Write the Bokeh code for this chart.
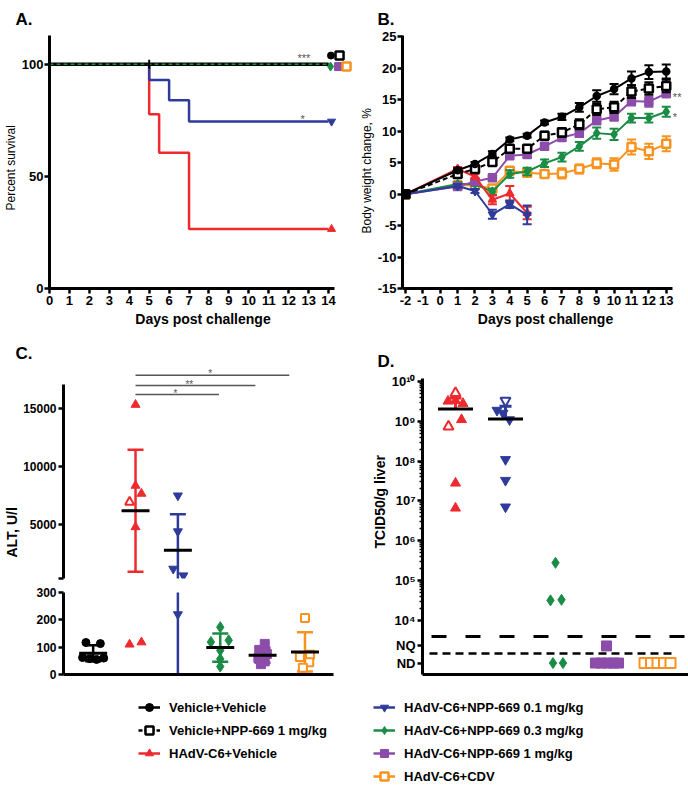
import math
from bokeh.plotting import figure
from bokeh.layouts import column, row
from bokeh.models import Range1d, FixedTicker, Legend, LegendItem, Title
from bokeh.core.properties import value
from bokeh.embed import file_html
from bokeh.resources import INLINE

FONT = "Liberation Sans"
INK = "#000000"
RED = "#EE2A2E"
BLUE = "#2E3B9B"
GREEN = "#1B8C45"
PURPLE = "#8C4DAA"
ORANGE = "#F7931E"
GRAY = "#555555"

GROUPS = ["Vehicle+Vehicle", "Vehicle+NPP-669 1 mg/kg", "HAdV-C6+Vehicle",
          "HAdV-C6+NPP-669 0.1 mg/kg", "HAdV-C6+NPP-669 0.3 mg/kg",
          "HAdV-C6+NPP-669 1 mg/kg", "HAdV-C6+CDV"]

# ---------------- Panel A: survival (%) ----------------
surv_days_flat = [0, 14]
surv_flat = [100, 100]
surv_days_red = [0, 5, 5.5, 7, 14]
surv_red = [100, 77.7, 60.6, 26.5, 26.5]
surv_days_blue = [0, 5, 6, 7, 14]
surv_blue = [100, 93.0, 84.0, 74.5, 74.5]
censor_days_vv = [5]
censor_vv = [100]
surv_x_ticks = list(range(0, 15))
surv_y_ticks = [0, 50, 100]
sig_A_text = ["***", "*"]
sig_A_day = [12.76, 12.7]
sig_A_y = [102.9, 75.6]

# ---------------- Panel B: body weight change (%) ----------------
bw_days = [-2, 1, 2, 3, 4, 5, 6, 7, 8, 9, 10, 11, 12, 13]
bw_vv = [0, 3.8, 4.8, 6.4, 8.7, 9.3, 11.4, 12.3, 13.8, 15.6, 16.7, 18.4, 19.4, 19.5]
bw_vv_sem = [0, 0.3, 0.3, 0.4, 0.3, 0.3, 0.3, 0.5, 0.7, 0.9, 0.8, 1.1, 1.1, 1.1]
bw_vn = [0, 3.2, 4.0, 5.1, 7.2, 7.2, 9.3, 9.8, 11.1, 13.5, 13.8, 16.3, 16.8, 17.2]
bw_vn_sem = [0, 0.4, 0.4, 0.5, 0.5, 0.5, 0.6, 0.7, 0.8, 0.9, 0.9, 1.0, 1.0, 1.0]
bw_p1 = [0, 1.2, 2.0, 2.6, 6.1, 6.3, 7.6, 9.0, 9.7, 11.7, 12.3, 14.8, 14.7, 16.0]
bw_p1_sem = [0, 0.3, 0.3, 0.3, 0.4, 0.4, 0.5, 0.5, 0.6, 0.6, 0.6, 0.7, 0.8, 0.6]
bw_p03 = [0, 1.6, 1.6, 0.4, 3.2, 3.6, 4.9, 5.9, 7.6, 9.7, 9.5, 12.1, 12.1, 13.1]
bw_p03_sem = [0, 0.3, 0.3, 0.5, 0.6, 0.6, 0.6, 0.7, 0.7, 0.9, 0.9, 0.7, 0.7, 0.8]
bw_cdv = [0, 1.4, 1.4, 0.9, 3.7, 3.4, 3.2, 3.3, 4.0, 4.9, 4.7, 7.5, 6.8, 8.0]
bw_cdv_sem = [0, 0.3, 0.3, 0.5, 0.5, 0.6, 0.6, 0.8, 0.7, 0.8, 1.0, 1.2, 1.2, 1.2]
bw_days_short = [-2, 1, 2, 3, 4, 5]
bw_hv = [0, 4.0, 2.8, -0.9, 0.1, -3.0]
bw_hv_sem = [0, 0.3, 0.4, 0.7, 1.2, 1.0]
bw_p01 = [0, 1.3, 0.5, -3.2, -1.6, -3.3]
bw_p01_sem = [0, 0.3, 0.3, 0.7, 0.6, 1.5]
bw_x_ticks = list(range(-2, 14))
bw_y_ticks = [-15, -10, -5, 0, 5, 10, 15, 20, 25]
sig_B_text = ["**", "*"]
sig_B_day = [13.38, 13.38]
sig_B_y = [15.5, 12.2]

# ---------------- Panel C: ALT (U/l) ----------------
alt_vv = [117, 113, 62, 58, 55, 60]
alt_hv = [15350, 8350, 7660, 6930, 4770, 110, 118]
alt_hv_open = [False, False, False, True, False, False, False]
alt_p01 = [7490, 4390, 1160, 580, 220]
alt_p03 = [173, 125, 119, 88, 57, 29]
alt_p1 = [112, 90, 75, 60, 48, 38]
alt_cdv = [207, 72, 64, 45, 25]
alt_upper_ticks = [5000, 10000, 15000]
alt_lower_ticks = [0, 100, 200, 300]
ALT_BREAK_LOW = 320      # bottom of the upper axis segment
ALT_BREAK_HIGH = 300     # top of the lower axis segment
sig_C_text = ["*", "**", "*"]
sig_C_from = [1, 1, 1]
sig_C_to = [4.63, 3.83, 2.97]
sig_C_level = [17900, 17010, 16230]
sig_C_star_x = [2.76, 2.27, 1.94]
# jitter of the dots within each column (layout only)
jit_vv = [-0.17, 0.17, -0.25, -0.08, 0.08, 0.25]
jit_hv = [0, 0, 0.14, -0.14, 0, -0.14, 0.14]
jit_p01 = [0, 0, -0.11, 0.13, 0]
jit_p03 = [0, 0.2, -0.22, 0, 0, 0]
jit_p1 = [0.05, -0.08, 0.1, -0.1, 0.05, -0.04]
jit_cdv = [0, 0.12, -0.12, 0.1, -0.05]

# ---------------- Panel D: TCID50/g liver ----------------
tcid_hv = [5.1e9, 3.2e9, 3.3e9, 2.8e9, 1.1e9, 7.4e8, 2.8e7, 6.6e6]
tcid_hv_open = [True, False, False, False, False, True, False, False]
tcid_p01 = [3.3e9, 1.9e9, 1.6e9, 1.1e9, 1.1e8, 3.3e7, 7.1e6]
tcid_p01_open = [True, False, False, False, False, False, False]
tcid_p03 = [2.8e5, 3.2e4, 3.3e4, "ND", "ND"]
tcid_p1 = ["NQ", "ND", "ND", "ND", "ND", "ND"]
tcid_cdv = ["ND", "ND", "ND", "ND", "ND"]
tcid_ticks = [10 ** k for k in range(4, 11)]
tcid_labels = ["10⁴", "10⁵", "10⁶", "10⁷", "10⁸", "10⁹", "10¹⁰"]
NQ_LEVEL = 10 ** 3.36
ND_LEVEL = 10 ** 2.93
LOQ_LINE = 10 ** 3.6
LOD_LINE = 10 ** 3.17
jit_t_hv = [0, -0.15, 0.0, 0.15, 0.12, -0.14, 0, 0]
jit_t_p01 = [0, -0.17, -0.05, 0.08, 0, 0, 0]
jit_t_p03 = [0, -0.1, 0.12, -0.05, 0.15]
jit_t_p1 = [0.02, -0.2, -0.08, 0.04, 0.16, 0.26]
jit_t_cdv = [-0.22, -0.09, 0.04, 0.17, 0.3]


def make_fig(width, height, xr, yr, borders, **kw):
    l, r, t, b = borders
    p = figure(width=width, height=height, x_range=xr, y_range=yr,
               output_backend="svg", toolbar_location=None,
               min_border_left=l, min_border_right=r, min_border_top=t,
               min_border_bottom=b, **kw)
    p.outline_line_color = None
    p.grid.visible = False
    return p


def style_axis(ax, size="13px"):
    ax.axis_line_width = 3
    ax.axis_line_color = INK
    ax.major_tick_line_width = 2.5
    ax.major_tick_line_color = INK
    ax.major_tick_out = 5
    ax.major_tick_in = 0
    ax.minor_tick_line_color = None
    ax.major_label_text_font = FONT
    ax.major_label_text_font_style = "bold"
    ax.major_label_text_font_size = size
    ax.major_label_text_color = INK
    ax.major_label_standoff = 2
    ax.axis_label_text_font = FONT
    ax.axis_label_text_font_style = "bold"
    ax.axis_label_text_font_size = "14px"
    ax.axis_label_text_color = INK


def panel_letter(p, text, offset, standoff):
    p.title.text = text
    p.title.align = "left"
    p.title.offset = offset
    p.title.standoff = standoff
    p.title.text_font = FONT
    p.title.text_font_size = "17px"
    p.title.text_font_style = "bold"
    p.title.text_color = INK


def side_title(p, text, offset, size="14px", style="bold"):
    t = Title(text=text, align="left", offset=offset, standoff=2, text_font=FONT,
              text_font_size=size, text_font_style=style, text_color=INK)
    p.add_layout(t, "left")


def stars(p, xs, ys, texts, size="11px", align="center"):
    p.text(x=xs, y=ys, text=texts, text_font=value(FONT), text_font_size=size,
           text_color=GRAY, text_align=align, text_baseline="alphabetic")


# ======================= A =======================
pA = make_fig(356, 335, Range1d(0, 15.4), Range1d(0, 112.85), (47, 0, 35, 47))
pA.step(surv_days_flat, surv_flat, mode="after", line_color=ORANGE, line_width=2)
pA.step(surv_days_flat, surv_flat, mode="after", line_color=PURPLE, line_width=2)
pA.step(surv_days_red, surv_red, mode="after", line_color=RED, line_width=2.5)
pA.step(surv_days_blue, surv_blue, mode="after", line_color=BLUE, line_width=2.5)
pA.step(surv_days_flat, surv_flat, mode="after", line_color=INK, line_width=3.5)
pA.step(surv_days_flat, surv_flat, mode="after", line_color=GREEN, line_width=1.5,
        line_dash="4 3")
pA.scatter(censor_days_vv, censor_vv, marker="dash", angle=math.pi / 2, size=9,
           line_color=INK, line_width=2)
last = lambda s: s[-1]
pA.scatter([14.12], [last(surv_flat) + 3.9], marker="circle", size=7, fill_color=INK, line_color=INK)
pA.scatter([14.55], [last(surv_flat) + 3.9], marker="square", size=8, fill_color="white", line_color=INK, line_width=2.5)
pA.scatter([14.1], [last(surv_flat) - 1], marker="diamond", size=9, fill_color=GREEN, line_color=GREEN)
pA.scatter([14.5], [last(surv_flat) - 1], marker="square", size=8, fill_color=PURPLE, line_color=PURPLE)
pA.scatter([14.9], [last(surv_flat) - 1], marker="square", size=8, fill_color="white", line_color=ORANGE, line_width=2.5)
pA.scatter([14.15], [last(surv_blue)], marker="inverted_triangle", size=8, fill_color=BLUE, line_color=BLUE)
pA.scatter([14.15], [last(surv_red)], marker="triangle", size=8, fill_color=RED, line_color=RED)
stars(pA, sig_A_day, sig_A_y, sig_A_text)
pA.xaxis.ticker = FixedTicker(ticks=surv_x_ticks)
pA.yaxis.ticker = FixedTicker(ticks=surv_y_ticks)
pA.xaxis.bounds = (0, 14.3)
style_axis(pA.xaxis, "13px")
style_axis(pA.yaxis, "13px")
pA.yaxis.major_label_standoff = 1
pA.xaxis.axis_label = "Days post challenge"
pA.xaxis.axis_label_standoff = 3
side_title(pA, "Percent survival", 78, size="12px", style="normal")
panel_letter(pA, "A.", -34, 14)

# ======================= B =======================
pB = make_fig(332, 335, Range1d(-2.17, 14.28), Range1d(-15, 25.22), (45, 0, 35, 47))


def bw_series(xs, ys, sem, color, marker, fill, dash="solid", size=7, mlw=1.5):
    lo = [y - e for y, e in zip(ys, sem)]
    hi = [y + e for y, e in zip(ys, sem)]
    pB.segment(x0=xs, y0=lo, x1=xs, y1=hi, line_color=color, line_width=2)
    pB.scatter(x=list(xs) + list(xs), y=lo + hi, marker="dash", size=9,
               line_color=color, line_width=2)
    pB.line(xs, ys, line_color=color, line_width=2, line_dash=dash)
    pB.scatter(xs, ys, marker=marker, size=size, fill_color=fill,
               line_color=color, line_width=mlw)


bw_series(bw_days, bw_cdv, bw_cdv_sem, ORANGE, "square", "white", size=8, mlw=2.5)
bw_series(bw_days, bw_p03, bw_p03_sem, GREEN, "diamond", GREEN, size=9)
bw_series(bw_days, bw_p1, bw_p1_sem, PURPLE, "square", PURPLE, size=8)
bw_series(bw_days_short, bw_hv, bw_hv_sem, RED, "triangle", RED, size=8)
bw_series(bw_days_short, bw_p01, bw_p01_sem, BLUE, "inverted_triangle", BLUE, size=8)
bw_series(bw_days, bw_vn, bw_vn_sem, INK, "square", "white", dash="5 3", size=8, mlw=2.5)
bw_series(bw_days, bw_vv, bw_vv_sem, INK, "circle", INK, size=7)
stars(pB, sig_B_day, sig_B_y, sig_B_text, align="left")
pB.xaxis.ticker = FixedTicker(ticks=bw_x_ticks)
pB.xaxis.major_label_overrides = {t: str(t) for t in bw_x_ticks}
pB.yaxis.ticker = FixedTicker(ticks=bw_y_ticks)
pB.yaxis.major_label_overrides = {t: str(t) for t in bw_y_ticks}
pB.xaxis.bounds = (-2.17, 13.36)
style_axis(pB.xaxis, "13px")
style_axis(pB.yaxis, "13px")
pB.yaxis.major_label_standoff = 1
pB.xaxis.axis_label = "Days post challenge"
pB.xaxis.axis_label_standoff = 3
side_title(pB, "Body weight change, %", 55, size="12px", style="normal")
panel_letter(pB, "B.", -25, 14)

# ======================= C (broken axis: two stacked frames) =======================
alt_sets = [
    (alt_vv, jit_vv, [False] * len(alt_vv), INK, "circle", 8),
    (alt_hv, jit_hv, alt_hv_open, RED, "triangle", 9),
    (alt_p01, jit_p01, [False] * len(alt_p01), BLUE, "inverted_triangle", 9),
    (alt_p03, jit_p03, [False] * len(alt_p03), GREEN, "diamond", 11),
    (alt_p1, jit_p1, [False] * len(alt_p1), PURPLE, "square", 9),
    (alt_cdv, jit_cdv, [True] * len(alt_cdv), ORANGE, "square", 8),
]


def mean_sd(v):
    m = sum(v) / len(v)
    sd = math.sqrt(sum((x - m) ** 2 for x in v) / (len(v) - 1))
    return m, sd


def draw_alt(p, lo, hi):
    inside = lambda v: lo <= v <= hi
    for i, (vals, jit, opn, color, marker, size) in enumerate(alt_sets):
        m, sd = mean_sd(vals)
        p.segment(x0=[i], y0=[m - sd], x1=[i], y1=[m + sd], line_color=color, line_width=2.5)
        caps = [c for c in (m - sd, m + sd) if inside(c)]
        if caps:
            p.scatter([i] * len(caps), caps, marker="dash", size=16, line_color=color,
                      line_width=2.5)
        pts = [(i + j, v, o) for j, v, o in zip(jit, vals, opn) if inside(v)]
        fx = [x for x, v, o in pts if not o]
        fy = [v for x, v, o in pts if not o]
        ox = [x for x, v, o in pts if o]
        oy = [v for x, v, o in pts if o]
        if fx:
            p.scatter(fx, fy, marker=marker, size=size, fill_color=color, line_color=color)
        if ox:
            p.scatter(ox, oy, marker=marker, size=size, fill_color="white",
                      line_color=color, line_width=2)
        if inside(m):
            p.segment(x0=[i - 0.33], y0=[m], x1=[i + 0.33], y1=[m], line_color=INK,
                      line_width=3)


pCu = make_fig(356, 249, Range1d(-0.70, 6.216), Range1d(ALT_BREAK_LOW, 19000),
               (60, 0, 27, 6), x_axis_location=None)
draw_alt(pCu, ALT_BREAK_LOW, 1e9)
pCu.segment(x0=sig_C_from, y0=sig_C_level, x1=sig_C_to, y1=sig_C_level,
            line_color=GRAY, line_width=1.5)
stars(pCu, sig_C_star_x, [v + 120 for v in sig_C_level], sig_C_text, size="10px")
pCu.yaxis.ticker = FixedTicker(ticks=[ALT_BREAK_LOW] + alt_upper_ticks)
pCu.yaxis.major_label_overrides = {ALT_BREAK_LOW: ""}
pCu.yaxis.bounds = (ALT_BREAK_LOW, 17100)
style_axis(pCu.yaxis, "12px")
side_title(pCu, "ALT, U/l", 21)
panel_letter(pCu, "C.", -48, 0)

pCl = make_fig(356, 102, pCu.x_range, Range1d(0, ALT_BREAK_HIGH), (60, 0, 8, 12))
draw_alt(pCl, -1e9, ALT_BREAK_HIGH)
pCl.yaxis.ticker = FixedTicker(ticks=alt_lower_ticks)
style_axis(pCl.yaxis, "12px")
style_axis(pCl.xaxis, "12px")
pCl.xaxis.ticker = FixedTicker(ticks=[])
pCl.xaxis.major_label_text_font_size = "0px"
pCl.xaxis.major_tick_out = 0
pCl.xaxis.major_label_standoff = 0
pCl.xaxis.bounds = (-0.70, 5.68)

# ======================= D =======================
pD = make_fig(332, 351, Range1d(-0.66, 4.66), Range1d(10 ** 2.643, 10 ** 10.075),
              (66, 0, 43, 12), y_axis_type="log")


def lvl(v):
    return NQ_LEVEL if v == "NQ" else (ND_LEVEL if v == "ND" else v)


pD.line([-0.48, 4.7], [LOQ_LINE, LOQ_LINE], line_color=INK, line_width=3, line_dash="15 19")
pD.line([-0.52, 4.38], [LOD_LINE, LOD_LINE], line_color=INK, line_width=2.5, line_dash="8 5")

d_sets = [
    (tcid_hv, jit_t_hv, tcid_hv_open, RED, "triangle", 10, True),
    (tcid_p01, jit_t_p01, tcid_p01_open, BLUE, "inverted_triangle", 10, True),
    (tcid_p03, jit_t_p03, [False] * len(tcid_p03), GREEN, "diamond", 11, False),
    (tcid_p1, jit_t_p1, [False] * len(tcid_p1), PURPLE, "square", 10, False),
    (tcid_cdv, jit_t_cdv, [True] * len(tcid_cdv), ORANGE, "square", 10, False),
]
for i, (vals, jit, opn, color, marker, size, show_mean) in enumerate(d_sets):
    ys = [lvl(v) for v in vals]
    xs = [i + j for j in jit]
    if show_mean:
        m, sd = mean_sd(vals)
        pD.segment(x0=[i], y0=[m], x1=[i], y1=[m + sd], line_color=color, line_width=3)
        pD.scatter([i], [m + sd], marker="dash", size=12, line_color=color, line_width=3)
    fx = [x for x, o in zip(xs, opn) if not o]
    fy = [y for y, o in zip(ys, opn) if not o]
    ox = [x for x, o in zip(xs, opn) if o]
    oy = [y for y, o in zip(ys, opn) if o]
    if fx:
        pD.scatter(fx, fy, marker=marker, size=size, fill_color=color, line_color=color)
    if ox:
        pD.scatter(ox, oy, marker=marker, size=size, fill_color="white",
                   line_color=color, line_width=2)
    if show_mean:
        pD.segment(x0=[i - 0.35], y0=[m], x1=[i + 0.35], y1=[m], line_color=INK, line_width=3)

d_ticks = [ND_LEVEL, NQ_LEVEL] + tcid_ticks
d_labels = {ND_LEVEL: "ND", NQ_LEVEL: "NQ"}
d_labels.update({t: s for t, s in zip(tcid_ticks, tcid_labels)})
pD.yaxis.ticker = FixedTicker(ticks=d_ticks,
                              minor_ticks=[k * 10 ** d for d in range(4, 10) for k in range(2, 10)])
pD.yaxis.major_label_overrides = d_labels
style_axis(pD.yaxis, "13px")
pD.yaxis.minor_tick_line_color = INK
pD.yaxis.minor_tick_line_width = 1.5
pD.yaxis.minor_tick_out = 3
pD.yaxis.minor_tick_in = 0
style_axis(pD.xaxis, "13px")
pD.xaxis.ticker = FixedTicker(ticks=[])
pD.xaxis.major_label_text_font_size = "0px"
pD.xaxis.major_tick_out = 0
pD.xaxis.major_label_standoff = 0
side_title(pD, "TCID50/g liver", 126)
panel_letter(pD, "D.", -45, 15)

# ======================= Legend =======================
pL = make_fig(688, 98, Range1d(0, 1), Range1d(0, 1), (0, 0, 0, 0),
              x_axis_location=None, y_axis_location=None)
leg_styles = [
    (INK, "circle", INK, "solid", 1),
    (INK, "square", "white", "4 2", 2.5),
    (RED, "triangle", RED, "solid", 1),
    (BLUE, "inverted_triangle", BLUE, "solid", 1),
    (GREEN, "diamond", GREEN, "solid", 1),
    (PURPLE, "square", PURPLE, "solid", 1),
    (ORANGE, "square", "white", "solid", 2.5),
]
items = []
for name, (col, mk, fill, dash, mlw) in zip(GROUPS, leg_styles):
    rl = pL.line([-5, -4], [-5, -4], line_color=col, line_width=2.5, line_dash=dash)
    rm = pL.scatter([-5], [-5], marker=mk, size=8, fill_color=fill, line_color=col,
                    line_width=mlw)
    items.append(LegendItem(label=name, renderers=[rl, rm]))


def make_legend(its, loc):
    lg = Legend(items=its, location=loc, orientation="vertical")
    lg.border_line_color = None
    lg.background_fill_alpha = 0
    lg.padding = 0
    lg.margin = 0
    lg.spacing = 3
    lg.glyph_width = 22
    lg.glyph_height = 20
    lg.label_height = 20
    lg.label_standoff = 9
    lg.label_text_font = FONT
    lg.label_text_font_style = "bold"
    lg.label_text_font_size = "13px"
    lg.label_text_color = INK
    return lg


pL.add_layout(make_legend(items[:3], (138, 21)))
pL.add_layout(make_legend(items[3:], (373, -2)))

layout = column(row(pA, pB), row(column(pCu, pCl), pD), pL)
open("out.html", "w").write(file_html(layout, INLINE))
